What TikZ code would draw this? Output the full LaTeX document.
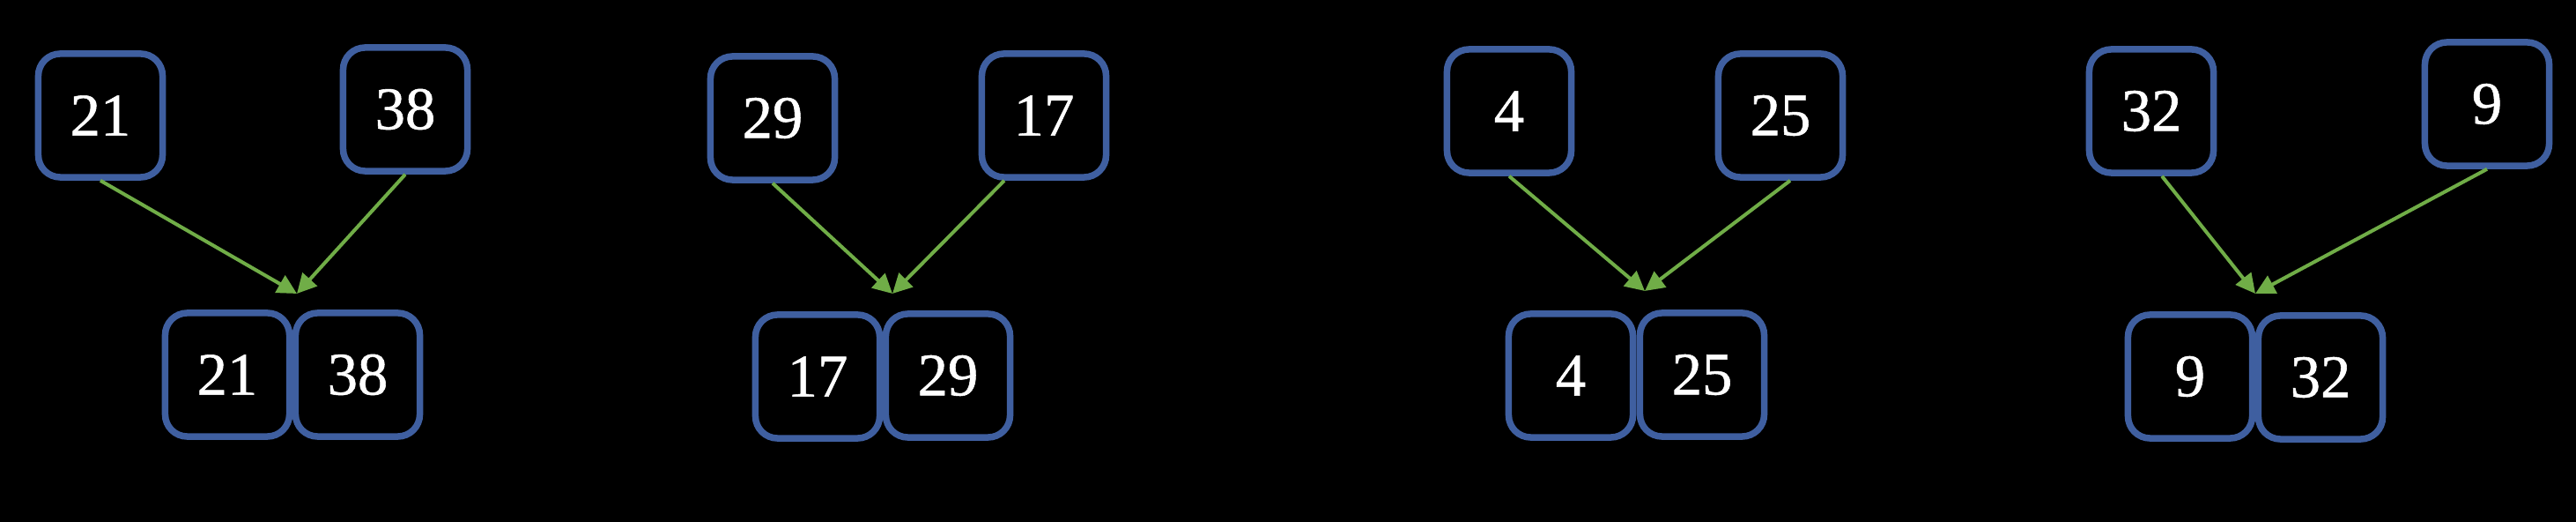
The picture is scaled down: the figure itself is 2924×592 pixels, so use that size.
\documentclass[tikz,border=0pt]{standalone}
\usepackage{fontspec}
\setmainfont{Liberation Serif}
\newfontfamily\numfont{Liberation Serif}[FakeBold=0.8]
\usetikzlibrary{arrows.meta,calc}
\definecolor{boxblue}{HTML}{3F5FA0}
\definecolor{arrgreen}{HTML}{70AD47}
\begin{document}
\begin{tikzpicture}[x=0.01cm,y=-0.01cm,
  numbox/.style={draw=boxblue, line width=0.075cm, rounded corners=0.25cm,
    minimum width=1.41cm, minimum height=1.40cm, text=white,
    font=\numfont\fontsize{19.5}{21}\selectfont, inner sep=0pt},
  conn/.style={draw=arrgreen, line width=0.04cm,
    -{Triangle[length=0.22cm,width=0.22cm]}}]
\fill[black] (0,0) rectangle (2924,592);
\useasboundingbox (0,0) rectangle (2924,592);
% group 1
\node[numbox] (t1a) at (114,131) {21};
\node[numbox] (t1b) at (460,124) {38};
\node[numbox] (b1a) at (258,425) {21};
\node[numbox] (b1b) at (406,425) {38};
\coordinate (m1) at (337,333);
\draw[conn] (t1a.south) -- (m1);
\draw[conn] (t1b.south) -- (m1);
% group 2
\node[numbox] (t2a) at (877,134) {29};
\node[numbox] (t2b) at (1185,131) {17};
\node[numbox] (b2a) at (928,427) {17};
\node[numbox] (b2b) at (1076,426) {29};
\coordinate (m2) at (1013,333);
\draw[conn] (t2a.south) -- (m2);
\draw[conn] ($(t2b.south)+(-45,0)$) -- (m2);
% group 3
\node[numbox] (t3a) at (1713,126) {4};
\node[numbox] (t3b) at (2021,131) {25};
\node[numbox] (b3a) at (1783,426) {4};
\node[numbox] (b3b) at (1932,425) {25};
\coordinate (m3) at (1867,330);
\draw[conn] (t3a.south) -- (m3);
\draw[conn] ($(t3b.south)+(11,0)$) -- (m3);
% group 4
\node[numbox] (t4a) at (2442,126) {32};
\node[numbox] (t4b) at (2823,118) {9};
\node[numbox] (b4a) at (2486,427) {9};
\node[numbox] (b4b) at (2634,428) {32};
\coordinate (m4) at (2560,333);
\draw[conn] ($(t4a.south)+(12,0)$) -- (m4);
\draw[conn] (t4b.south) -- (m4);
\end{tikzpicture}
\end{document}
